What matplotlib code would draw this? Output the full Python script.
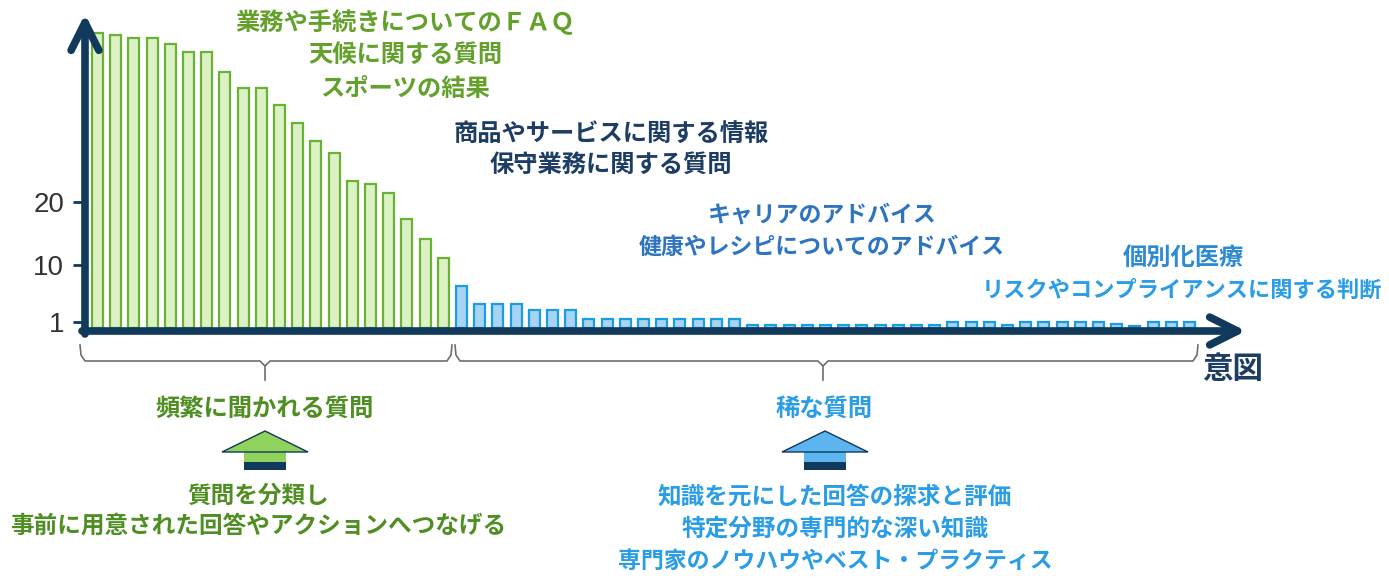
import matplotlib
matplotlib.use("Agg")
import matplotlib.pyplot as plt
from matplotlib.patches import Polygon, Rectangle
import numpy as np

# ---------------- data ----------------
freq_values = [46.8, 46.5, 46.0, 46.0, 45.1, 43.8, 43.8, 40.6, 38.1, 38.1,
               35.4, 32.5, 29.7, 27.8, 23.3, 22.9, 21.4, 17.3, 14.1, 11.1]
rare_values = [6.7, 3.8, 3.8, 3.8, 2.9, 2.9, 2.9,
               1.5, 1.5, 1.5, 1.5, 1.5, 1.5, 1.5, 1.5, 1.5,
               0.55, 0.55, 0.55, 0.55, 0.55, 0.55, 0.55, 0.55, 0.55, 0.55, 0.55,
               0.9, 0.9, 0.9, 0.55, 0.9, 0.9, 0.9, 0.9, 0.9, 0.6, 0.3,
               0.9, 0.9, 0.9]
y_ticks = [1, 10, 20]
y_tick_labels = ["1", "10", "20"]

label_frequent = "頻繁に聞かれる質問"
label_rare = "稀な質問"
x_axis_label = "意図"
freq_examples = ["業務や手続きについてのＦＡＱ", "天候に関する質問", "スポーツの結果"]
mid_examples = ["商品やサービスに関する情報", "保守業務に関する質問"]
career_examples = ["キャリアのアドバイス", "健康やレシピについてのアドバイス"]
tail_examples = ["個別化医療", "リスクやコンプライアンスに関する判断"]
freq_action = ["質問を分類し", "事前に用意された回答やアクションへつなげる"]
rare_action = ["知識を元にした回答の探求と評価", "特定分野の専門的な深い知識",
               "専門家のノウハウやベスト・プラクティス"]

# ---------------- style ----------------
W, H = 1389, 578
plt.rcParams['font.family'] = ['Noto Sans CJK JP', 'DejaVu Sans']
NAVY = "#10395c"
G_FILL, G_EDGE = "#dcf2c4", "#69b236"
B_FILL, B_EDGE = "#a9d3f2", "#1a9ee2"
G_TXT = "#64a02c"
G_TXT2 = "#4f8e22"
NAVY_TXT = "#1d3d63"
MID_BLUE = "#2f74c0"
CYAN = "#2a9de6"

fig = plt.figure(figsize=(W / 100, H / 100), dpi=100)

# main bar axes (pixel layout: y-axis at x=85, baseline at y=328)
x0_px, x1_px = 85, 1245
base_px, top_px = 328, 15
step_px, first_px = 18.2, 97.5
unit_px = 6.3
ax = fig.add_axes([x0_px / W, (H - base_px) / H, (x1_px - x0_px) / W, (base_px - top_px) / H])
ax.set_xlim((x0_px - first_px) / step_px, (x1_px - first_px) / step_px)
ax.set_ylim(0, (base_px - top_px) / unit_px)

n_f = len(freq_values)
xf = np.arange(n_f)
xr = np.arange(n_f, n_f + len(rare_values))
ax.bar(xf, freq_values, width=0.6, color=G_FILL, edgecolor=G_EDGE, linewidth=1.6, zorder=2)
ax.bar(xr, rare_values, width=0.6, color=B_FILL, edgecolor=B_EDGE, linewidth=1.6, zorder=2)

for s in ax.spines.values():
    s.set_visible(False)
ax.set_xticks([])
ax.set_yticks(y_ticks)
ax.set_yticklabels(y_tick_labels, family=['Liberation Sans', 'DejaVu Sans'], fontsize=20, color="#333333")
ax.tick_params(axis='y', length=9, width=2, color=NAVY, pad=6)
ax.patch.set_alpha(0)

# overlay axes in pixel coordinates
ov = fig.add_axes([0, 0, 1, 1])
ov.set_xlim(0, W)
ov.set_ylim(H, 0)
ov.axis('off')
ov.patch.set_alpha(0)

# axis arrows
ov.annotate("", xy=(1246, 331), xytext=(82, 331),
            arrowprops=dict(arrowstyle="->,head_length=1.0,head_width=0.5", lw=5.5,
                            color=NAVY, mutation_scale=20, shrinkA=0, shrinkB=0))
ov.annotate("", xy=(85, 14), xytext=(85, 334),
            arrowprops=dict(arrowstyle="->,head_length=1.0,head_width=0.5", lw=5.5,
                            color=NAVY, mutation_scale=20, shrinkA=0, shrinkB=0))

# braces
def brace(xl, xr_, xc, y_top=345, y_line=361, y_tip=380):
    pts = [(xl, y_top), (xl + 1, y_line - 6), (xl + 5, y_line), (xc - 5, y_line), (xc, y_line + 5),
           (xc + 5, y_line), (xr_ - 5, y_line), (xr_ - 1, y_line - 6), (xr_, y_top)]
    xs, ys = zip(*pts)
    ov.plot(xs, ys, color="#6e6e6e", lw=1.2, solid_joinstyle='round')
    ov.plot([xc, xc], [y_line + 5, y_tip], color="#6e6e6e", lw=1.2)

brace(80, 452, 265)
brace(455, 1198, 823)

# block arrows
def block_arrow(xc, fill, tip=431, base=452, half_head=43, half_shaft=21, bottom=470, split=462):
    # dark lower part of the shaft
    ov.add_patch(Polygon([(xc - half_shaft, split), (xc + half_shaft, split),
                          (xc + half_shaft, bottom), (xc - half_shaft, bottom)],
                         closed=True, facecolor=NAVY, edgecolor='none', zorder=3))
    # light upper part of the shaft
    ov.add_patch(Polygon([(xc - half_shaft, base - 1), (xc + half_shaft, base - 1),
                          (xc + half_shaft, split), (xc - half_shaft, split)],
                         closed=True, facecolor=fill, edgecolor='none', zorder=3))
    ov.add_patch(Polygon([(xc - half_head, base), (xc, tip), (xc + half_head, base)],
                         closed=True, facecolor=fill, edgecolor=NAVY, lw=1.0, zorder=4))

block_arrow(265, "#8fd35d")
block_arrow(825, "#5cb5ef")

# annotations (top)
kw = dict(ha='center', va='center', fontweight='bold')
for txt, y in zip(freq_examples, [22, 56, 89]):
    ov.text(405, y, txt, color=G_TXT, fontsize=17.5, **kw)
for txt, y in zip(mid_examples, [134, 165]):
    ov.text(611, y, txt, color=NAVY_TXT, fontsize=17.5, **kw)
for txt, y in zip(career_examples, [215, 247]):
    ov.text(822, y, txt, color=MID_BLUE, fontsize=16.5, **kw)
ov.text(1183, 258, tail_examples[0], color="#2d8bd3", fontsize=17.5, **kw)
ov.text(1182, 290, tail_examples[1], color=CYAN, fontsize=16, **kw)

# bottom labels
ov.text(265, 409, label_frequent, color=G_TXT2, fontsize=17.5, **kw)
ov.text(824, 409, label_rare, color=CYAN, fontsize=17.5, **kw)
ov.text(1233, 369, x_axis_label, color=NAVY_TXT, fontsize=22, **kw)
for txt, y in zip(freq_action, [496, 526]):
    ov.text(258, y, txt, color=G_TXT2, fontsize=17, **kw)
for txt, y in zip(rare_action, [497, 529, 561]):
    ov.text(835, y, txt, color=CYAN, fontsize=17 if y < 550 else 16.5, **kw)

fig.savefig("out.png", dpi=100)
